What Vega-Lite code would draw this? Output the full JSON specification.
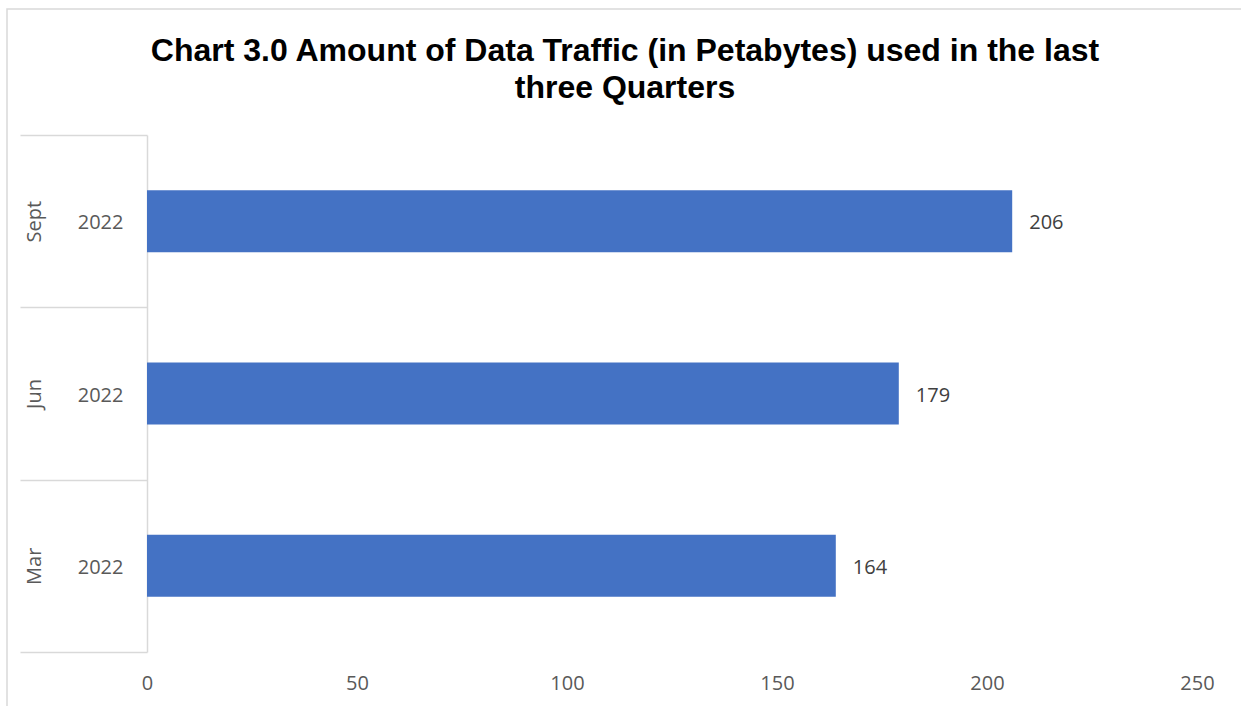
{
  "$schema": "https://vega.github.io/schema/vega-lite/v6.json",
  "autosize": {"type": "none"},
  "width": 1244,
  "height": 707,
  "padding": {"left": 7, "top": 9, "right": 0, "bottom": 0},
  "background": "white",
  "title": {
    "text": ["Chart 3.0 Amount of Data Traffic (in Petabytes) used in the last", "three Quarters"],
    "font": "Liberation Sans",
    "fontSize": 32,
    "fontWeight": "bold",
    "color": "#000000",
    "anchor": "middle",
    "frame": "group",
    "dx": -4,
    "offset": -96,
    "lineHeight": 37
  },
  "data": {
    "values": [
      {"quarter": "Sept 2022", "value": 206},
      {"quarter": "Jun 2022", "value": 179},
      {"quarter": "Mar 2022", "value": 164}
    ]
  },
  "encoding": {
    "y": {
      "field": "quarter",
      "type": "nominal",
      "sort": ["Sept 2022", "Jun 2022", "Mar 2022"],
      "scale": {"paddingInner": 0, "paddingOuter": 0, "range": [126, 643]}
    },
    "x": {
      "field": "value",
      "type": "quantitative",
      "scale": {"domain": [0, 250], "range": [140, 1190]},
      "axis": {
        "values": [0, 50, 100, 150, 200, 250],
        "title": null,
        "domain": false,
        "ticks": false,
        "grid": false,
        "offset": -64,
        "labelFont": "Open Sans",
        "labelFontSize": 20,
        "labelColor": "#595959",
        "labelPadding": 21,
        "labelFlush": false
      }
    }
  },
  "layer": [
    {
      "mark": {"type": "bar", "color": "#4472C4", "height": {"band": 0.36}},
      "encoding": {
        "y": {
          "field": "quarter",
          "type": "nominal",
          "sort": ["Sept 2022", "Jun 2022", "Mar 2022"],
          "axis": {
            "orient": "left",
            "offset": -140,
            "title": null,
            "domain": true,
            "domainColor": "#d9d9d9",
            "domainWidth": 1.5,
            "ticks": true,
            "tickBand": "extent",
            "tickSize": 127,
            "tickColor": "#d9d9d9",
            "tickWidth": 1.5,
            "labelExpr": "split(datum.label, ' ')[0]",
            "labelAngle": 270,
            "labelAlign": "center",
            "labelBaseline": "bottom",
            "labelPadding": -24,
            "labelFont": "Open Sans",
            "labelFontSize": 20,
            "labelColor": "#595959"
          }
        }
      }
    },
    {
      "mark": {
        "type": "text",
        "align": "left",
        "baseline": "middle",
        "dx": 17,
        "dy": 2,
        "font": "Open Sans",
        "fontSize": 20,
        "color": "#404040"
      },
      "encoding": {
        "text": {"field": "value", "type": "quantitative"},
        "y": {
          "field": "quarter",
          "type": "nominal",
          "sort": ["Sept 2022", "Jun 2022", "Mar 2022"],
          "axis": {
            "orient": "left",
            "offset": -140,
            "title": null,
            "domain": false,
            "ticks": false,
            "labelExpr": "split(datum.label, ' ')[1]",
            "labelAngle": 0,
            "labelAlign": "right",
            "labelBaseline": "middle",
            "labelOffset": 2,
            "labelPadding": 24,
            "labelFont": "Open Sans",
            "labelFontSize": 20,
            "labelColor": "#595959"
          }
        }
      }
    }
  ],
  "resolve": {"axis": {"y": "independent"}},
  "config": {"view": {"stroke": "#d9d9d9", "strokeWidth": 1.5}}
}
